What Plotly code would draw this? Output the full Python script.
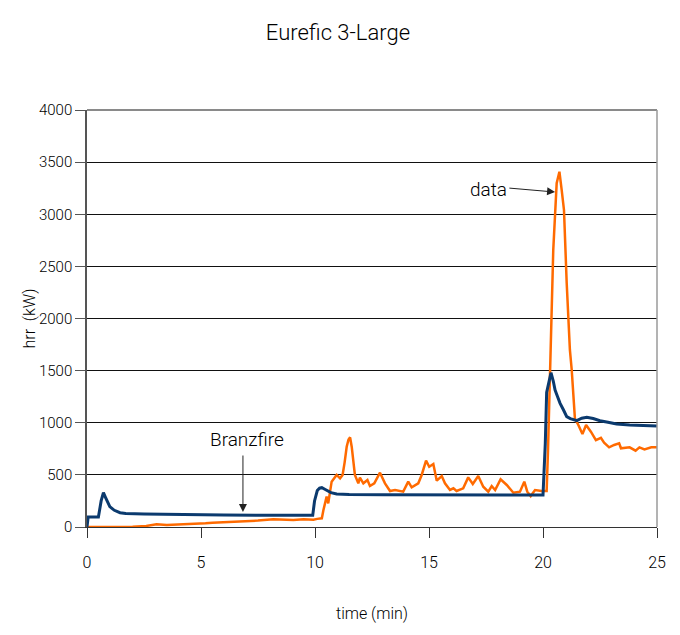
import plotly.graph_objects as go

# Branzfire model (navy)
branz_t = [0, 0.05, 0.3, 0.5, 0.62, 0.72, 0.8, 1.0, 1.2, 1.45, 1.7, 1.9, 2.5, 3.35, 4.5, 6, 8, 9.9,
           9.98, 10.1, 10.2, 10.3, 10.45, 10.7, 10.95, 11.5, 13, 15, 18, 20.0, 20.1, 20.16, 20.25,
           20.35, 20.45, 20.53, 20.64, 20.75, 20.9, 21.04, 21.2, 21.35, 21.48, 21.7, 21.92, 22.2,
           22.5, 22.85, 23.23, 23.8, 24.4, 25]
branz_v = [0, 95, 95, 95, 250, 329, 290, 195, 160, 137, 130, 128, 125, 122, 118, 115, 113, 112,
           250, 350, 372, 377, 360, 330, 316, 312, 310, 308, 307, 307, 800, 1290, 1380,
           1480, 1400, 1314, 1250, 1186, 1122, 1058, 1040, 1026, 1020, 1043, 1052, 1040,
           1020, 1005, 988, 978, 972, 969]

# Measured data (orange)
data_t = [0, 0.5, 1, 1.5, 2, 2.6, 3.05, 3.5, 4, 4.8, 5.2, 5.5, 6, 6.55, 7.0, 7.5, 8.17, 8.6, 9.05,
          9.5, 9.93, 10.1, 10.3, 10.37, 10.45, 10.51, 10.58, 10.65, 10.73, 10.85, 10.95, 11.1,
          11.21, 11.3, 11.39, 11.47, 11.54, 11.61, 11.68, 11.75, 11.9, 11.97, 12.12, 12.3, 12.41,
          12.6, 12.85, 13.07, 13.29, 13.51, 13.87, 14.09, 14.24, 14.53, 14.68, 14.87, 15.01,
          15.19, 15.34, 15.56, 15.7, 15.92, 16.07, 16.21, 16.5, 16.72, 16.92, 17.16, 17.38,
          17.6, 17.75, 17.9, 18.14, 18.41, 18.7, 18.99, 19.18, 19.31, 19.46, 19.65, 19.94,
          20.16, 20.22, 20.31, 20.45, 20.6, 20.72, 20.82, 20.92, 21.04, 21.18, 21.26, 21.4,
          21.55, 21.73, 21.89, 22.1, 22.32, 22.54, 22.68, 22.9, 23.12, 23.34, 23.42, 23.8,
          24.06, 24.23, 24.45, 24.75, 25]
data_v = [0, 0, 0, 0, 2, 10, 26, 20, 25, 26, 35, 41, 45, 51, 58, 62, 74, 70, 67,
          75, 70, 78, 83, 163, 250, 291, 227, 330, 435, 470, 499, 467,
          499, 620, 770, 840, 860, 770, 620, 499, 419, 473, 419, 451, 393,
          419, 521, 419, 345, 355, 339, 435, 381, 419, 499, 636, 578,
          604, 444, 489, 419, 355, 371, 345, 371, 476, 413, 489, 387,
          339, 393, 355, 457, 403, 329, 339, 435, 339, 297, 355, 345,
          345, 740, 1490, 2657, 3297, 3408, 3232, 3041, 2338, 1698, 1506, 1040,
          978, 892, 978, 914, 834, 856, 809, 764, 787, 803, 755, 764,
          732, 764, 745, 764, 764]

x_ticks = [0, 5, 10, 15, 20, 25]
y_ticks = [0, 500, 1000, 1500, 2000, 2500, 3000, 3500, 4000]

FONT = "Roboto"

fig = go.Figure()
fig.add_trace(go.Scatter(x=data_t, y=data_v, mode="lines", name="data",
                         line=dict(color="#FF6A00", width=2.5)))
fig.add_trace(go.Scatter(x=branz_t, y=branz_v, mode="lines", name="Branzfire",
                         line=dict(color="#0B3A6E", width=3)))

fig.update_layout(
    width=672, height=627,
    margin=dict(l=79, r=23, t=102, b=108),
    paper_bgcolor="white", plot_bgcolor="white",
    showlegend=False,
    font=dict(family=FONT, color="black", size=16, weight=300),
    title=dict(text="Eurefic 3-Large", x=0.491, xanchor="center", y=0.962, yanchor="middle",
               font=dict(family=FONT, size=22, color="black", weight=300)),
    xaxis=dict(range=[0, 25], tickvals=x_ticks, ticks="outside", ticklen=10, tickcolor="#333",
               showgrid=False, zeroline=False, showline=True, linecolor="#333", linewidth=1,
               tickfont=dict(size=16, weight=300), ticklabelstandoff=11),
    yaxis=dict(range=[0, 4000], tickvals=y_ticks, ticks="outside", ticklen=10, tickcolor="#555",
               showgrid=True, gridcolor="#111", gridwidth=1, zeroline=False,
               showline=True, linecolor="#555", linewidth=1.5,
               tickfont=dict(size=15, weight=300)),
    shapes=[
        dict(type="line", xref="paper", yref="paper", x0=0, x1=1, y0=1, y1=1,
             line=dict(color="#8a8a8a", width=2), layer="above"),
        dict(type="line", xref="paper", yref="paper", x0=1, x1=1, y0=0, y1=1,
             line=dict(color="#9a9a9a", width=1.5), layer="above"),
    ],
    annotations=[
        dict(x=0.5, y=0, xref="paper", yref="paper", yshift=-86, text="time (min)",
             showarrow=False, xanchor="center", yanchor="middle",
             font=dict(size=16, weight=300)),
        dict(x=0, y=0.5, xref="paper", yref="paper", xshift=-58, text="hrr  (kW)",
             showarrow=False, textangle=-90, xanchor="center", yanchor="middle",
             font=dict(size=16, weight=300)),
        dict(x=7.0, y=835, xref="x", yref="y", text="Branzfire", showarrow=False,
             font=dict(size=19, weight=300)),
        dict(x=6.84, y=144, ax=6.84, ay=700, xref="x", yref="y", axref="x", ayref="y",
             text="", showarrow=True, arrowhead=2, arrowsize=1.6, arrowwidth=1, arrowcolor="#222"),
        dict(x=17.59, y=3233, xref="x", yref="y", text="data", showarrow=False,
             font=dict(size=19, weight=300)),
        dict(x=20.53, y=3213, ax=18.46, ay=3252, xref="x", yref="y", axref="x", ayref="y",
             text="", showarrow=True, arrowhead=2, arrowsize=1.6, arrowwidth=1, arrowcolor="#222"),
    ],
)

fig.write_html("out.html")
